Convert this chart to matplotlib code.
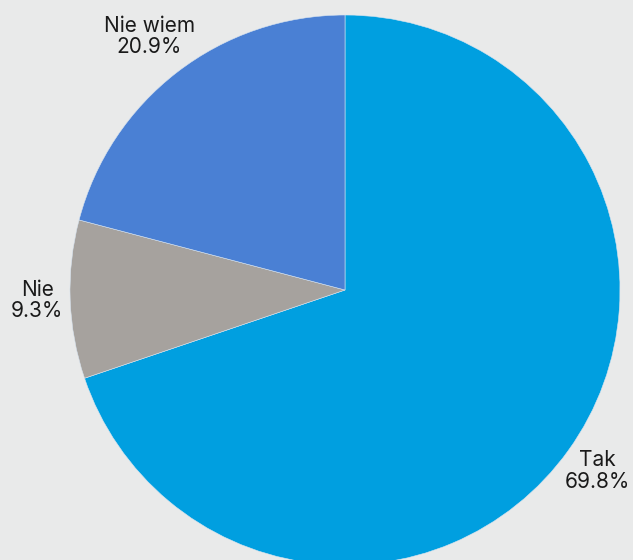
import numpy as np
import matplotlib.pyplot as plt

labels = ['Tak', 'Nie', 'Nie wiem']
values = [69.8, 9.3, 20.9]
colors = ['#009fe0', '#a6a29e', '#4a80d4']

bg = '#e9eaea'
W, H = 633, 560
cx, cy, r = 345, 290, 275

fig = plt.figure(figsize=(W / 100, H / 100), dpi=100, facecolor=bg)
ax = fig.add_axes([0, 0, 1, 1])
ax.set_facecolor(bg)

wedges, _ = ax.pie(values, colors=colors, startangle=90, counterclock=False,
                   wedgeprops=dict(edgecolor='#d8e4f0', linewidth=0.4))

ax.set_xlim(-cx / r, (W - cx) / r)
ax.set_ylim(-(H - cy) / r, cy / r)
ax.set_aspect('auto')
ax.axis('off')

# label distance from centre, per slice
dist = [1.13, 1.12, 1.165]
for w, lab, v, d in zip(wedges, labels, values, dist):
    ang = np.deg2rad((w.theta1 + w.theta2) / 2)
    ax.text(d * np.cos(ang), d * np.sin(ang), f'{lab}\n{v}%',
            ha='center', va='center', fontsize=15, color='#1a1a1a',
            linespacing=1.08, family=['Inter', 'DejaVu Sans'])

fig.savefig('out.png', dpi=100, facecolor=bg)
